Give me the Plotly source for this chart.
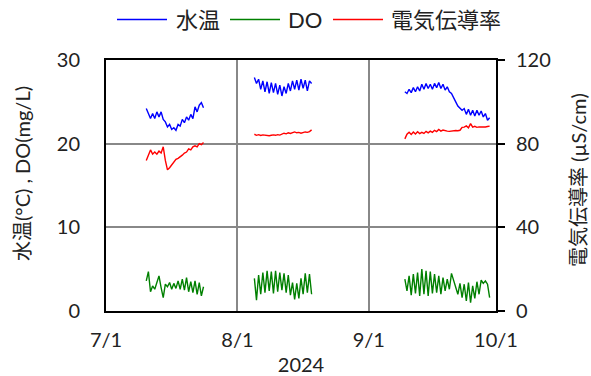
import pandas as pd
import plotly.graph_objects as go

# ---- data (12-hourly readings, three measurement periods) ----
seg_starts = ["2024-07-10 12:00", "2024-08-05 00:00", "2024-09-09 12:00"]

temp_seg1 = [24.2, 23.5, 23.0, 23.6, 23.0, 23.8, 23.2, 23.8, 22.9, 22.6, 22.0, 22.3, 21.7, 21.9,
             21.6, 22.3, 22.1, 22.9, 22.5, 23.2, 22.8, 23.5, 23.0, 24.4, 23.8, 24.6, 24.9, 24.3]
temp_seg2 = [27.9, 27.2, 27.7, 26.5, 27.5, 26.2, 27.4, 26.0, 27.3, 26.1, 27.2, 25.9, 27.0, 25.7,
             26.8, 26.0, 27.2, 26.3, 27.5, 26.5, 27.6, 26.4, 27.7, 26.6, 27.6, 26.3, 27.5, 27.2]
temp_seg3 = [26.2, 26.0, 26.5, 26.1, 26.7, 26.2, 26.8, 26.3, 27.1, 26.5, 27.2, 26.6, 27.1, 26.5,
             27.2, 26.7, 27.3, 26.6, 27.1, 26.4, 26.8, 26.2, 26.0, 25.4, 25.0, 24.5, 24.3, 24.0,
             24.2, 23.5, 24.1, 23.4, 24.0, 23.3, 24.0, 23.4, 23.9, 23.2, 23.6, 22.8, 23.1]

do_seg1 = [3.6, 4.7, 2.3, 3.0, 2.6, 3.3, 4.2, 2.8, 1.6, 3.2, 2.9, 3.4, 2.6, 3.3,
           2.7, 3.6, 2.6, 3.8, 2.5, 4.0, 2.3, 3.5, 2.2, 3.6, 2.0, 3.4, 1.8, 2.9]
do_seg2 = [3.9, 1.3, 4.3, 2.0, 4.6, 2.2, 4.8, 2.4, 4.7, 2.1, 4.8, 2.3, 4.6, 2.5,
           4.5, 2.2, 4.3, 1.9, 3.4, 1.4, 3.3, 1.5, 3.9, 2.0, 4.5, 2.2, 4.4, 2.0]
do_seg3 = [3.8, 2.4, 4.2, 1.9, 4.4, 2.1, 4.6, 1.8, 5.0, 2.0, 4.8, 1.8, 4.7, 2.1,
           4.4, 2.2, 4.2, 2.0, 4.0, 2.4, 3.8, 2.6, 4.5, 3.6, 3.0, 2.0, 3.3, 1.6,
           3.2, 1.2, 3.4, 1.0, 3.0, 1.5, 3.5, 2.0, 3.7, 3.3, 3.6, 3.2, 1.6]

ec_seg1 = [72.0, 75.0, 77.0, 75.0, 76.0, 75.0, 76.5, 75.5, 78.5, 72.0, 67.5, 68.5, 70.0, 71.0,
           72.5, 73.0, 74.0, 74.5, 75.5, 76.0, 77.5, 77.0, 78.5, 79.0, 78.5, 80.0, 79.5, 80.5]
ec_seg2 = [84.5, 84.0, 84.3, 83.9, 84.2, 84.0, 84.1, 83.8, 84.0, 84.2, 84.0, 84.3, 84.1, 84.6,
           85.0, 84.7, 85.2, 84.9, 85.3, 85.6, 85.2, 85.4, 85.0, 85.3, 85.6, 85.4, 85.8, 86.6]
ec_seg3 = [82.3, 84.5, 85.5, 84.4, 85.6, 84.6, 85.7, 84.8, 85.4, 84.9, 85.9, 85.2, 86.0, 85.4,
           86.4, 85.8, 86.8, 86.0, 86.5, 86.1, 86.0, 85.9, 86.1, 86.0, 86.3, 86.2, 86.4, 87.8,
           87.9, 88.5, 87.6, 89.6, 87.9, 88.3, 87.8, 88.0, 87.9, 88.1, 88.0, 88.2, 88.4]

x_ticks = ["2024-07-01", "2024-08-01", "2024-09-01", "2024-10-01"]
x_tick_labels = ["7/1", "8/1", "9/1", "10/1"]


def join(segments):
    xs, ys = [], []
    for start, vals in zip(seg_starts, segments):
        xs += list(pd.date_range(start, periods=len(vals), freq="12h"))
        ys += list(vals)
        xs.append(None)
        ys.append(None)
    return xs, ys


tx, ty = join([temp_seg1, temp_seg2, temp_seg3])
dx, dy = join([do_seg1, do_seg2, do_seg3])
ex, ey = join([ec_seg1, ec_seg2, ec_seg3])

FONT = "Lato, 'Noto Sans CJK JP', sans-serif"
TXT = "#222222"
BLUE, GREEN, RED = "#0000FF", "#008000", "#FF0000"

fig = go.Figure()
fig.add_trace(go.Scatter(x=tx, y=ty, mode="lines", name="水温",
                         line=dict(color=BLUE, width=1.4), showlegend=False))
fig.add_trace(go.Scatter(x=dx, y=dy, mode="lines", name="DO",
                         line=dict(color=GREEN, width=1.4), showlegend=False))
fig.add_trace(go.Scatter(x=ex, y=ey, mode="lines", name="電気伝導率", yaxis="y2",
                         line=dict(color=RED, width=1.4), showlegend=False))

L, R, T, B, W, H = 106, 95, 60, 65, 591, 376
pw, ph = W - L - R, H - T - B


def px(xp):
    return (xp - L) / pw


def py(yp):
    return (H - B - yp) / ph


# custom legend (long line samples)
legend_items = [("水温", BLUE, 117, 167, 174), ("DO", GREEN, 230, 280, 286), ("電気伝導率", RED, 333, 383, 389)]
shapes, annotations = [], []
for label, col, x0, x1, xt in legend_items:
    shapes.append(dict(type="line", xref="paper", yref="paper", x0=px(x0), x1=px(x1),
                       y0=py(19.5), y1=py(19.5), line=dict(color=col, width=1.4)))
    annotations.append(dict(text=label, xref="paper", yref="paper", x=px(xt), y=py(19.5),
                            xanchor="left", yanchor="middle", showarrow=False,
                            font=dict(family=FONT, size=22, color=TXT)))

# axis titles for the two value axes
annotations.append(dict(text="水温(°C) , DO(mg/L)", xref="paper", yref="paper",
                        x=px(22), y=py(174), xanchor="center", yanchor="middle",
                        textangle=-90, showarrow=False, font=dict(family=FONT, size=20, color=TXT)))
annotations.append(dict(text="電気伝導率 (µS/cm)", xref="paper", yref="paper",
                        x=px(578), y=py(180), xanchor="center", yanchor="middle",
                        textangle=-90, showarrow=False, font=dict(family=FONT, size=20, color=TXT)))

fig.update_layout(
    width=W, height=H, autosize=False,
    margin=dict(l=L, r=R, t=T, b=B, pad=0),
    paper_bgcolor="white", plot_bgcolor="white",
    font=dict(family=FONT, size=20, color=TXT),
    shapes=shapes, annotations=annotations,
    xaxis=dict(type="date", range=["2024-07-01", "2024-10-01"],
               tickvals=x_ticks, ticktext=x_tick_labels, ticks="",
               showgrid=True, gridcolor="#888888", gridwidth=2,
               showline=True, linecolor="black", linewidth=2, mirror=True,
               ticklabelstandoff=10, automargin=False,
               title=dict(text="2024", standoff=8, font=dict(size=20))),
    yaxis=dict(range=[0, 30], dtick=10, ticks="",
               showgrid=True, gridcolor="#888888", gridwidth=2, zeroline=False,
               showline=True, linecolor="black", linewidth=2, mirror=True,
               ticklabelstandoff=20, automargin=False),
    yaxis2=dict(range=[0, 120], dtick=40, overlaying="y", side="right",
                ticks="outside", ticklen=7, tickwidth=2, tickcolor="black",
                showgrid=False, zeroline=False,
                showline=True, linecolor="black", linewidth=2,
                ticklabelstandoff=7, automargin=False),
)

fig.write_html("out.html", config={"displayModeBar": False},
               post_script="document.body.style.margin='0';document.body.style.overflow='hidden';")
